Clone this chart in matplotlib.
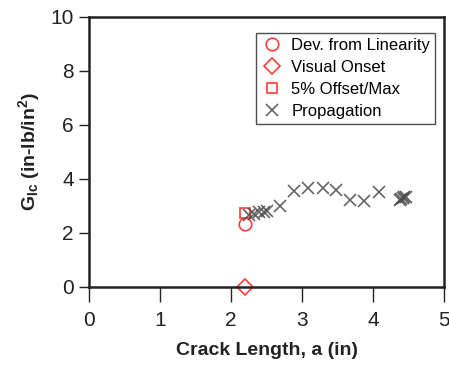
import numpy as np
import matplotlib.pyplot as plt

# valores
dev_x = [2.20]
dev_g = [2.32]
vis_x = [2.20]
vis_g = [0.0]
off_x = [2.20]
off_g = [2.75]
prop_x = [2.25, 2.32, 2.39, 2.46, 2.50, 2.69, 2.89, 3.08, 3.29, 3.48, 3.68, 3.87, 4.08,
          4.38, 4.40, 4.42, 4.44, 4.46]
prop_g = [2.65, 2.72, 2.76, 2.78, 2.80, 3.01, 3.57, 3.65, 3.65, 3.59, 3.22, 3.19, 3.53,
          3.24, 3.27, 3.30, 3.32, 3.35]

plt.rcParams['font.family'] = ['Liberation Sans', 'DejaVu Sans']
plt.rcParams['mathtext.fontset'] = 'custom'
plt.rcParams['mathtext.rm'] = 'Liberation Sans'
plt.rcParams['mathtext.bf'] = 'Liberation Sans:bold'

rojo = '#ff3b3b'
gris = '#4a4a4a'

fig = plt.figure(figsize=(4.49, 3.68), dpi=100)
ax = fig.add_axes([89 / 449, 81 / 368, 355 / 449, 270 / 368])

ax.plot(dev_x, dev_g, 'o', mfc='none', mec=rojo, ms=9, mew=1.2, label='Dev. from Linearity')
ax.plot(vis_x, vis_g, 'D', mfc='none', mec=rojo, ms=8.5, mew=1.2, label='Visual Onset', clip_on=False)
ax.plot(off_x, off_g, 's', mfc='none', mec=rojo, ms=7.5, mew=1.2, label='5% Offset/Max')
ax.plot(prop_x, prop_g, 'x', color=gris, ms=8, mew=1.2, alpha=0.85, label='Propagation')

ax.set_xlim(0, 5)
ax.set_ylim(0, 10)
ax.set_xticks(range(0, 6))
ax.set_yticks(range(0, 11, 2))

for s in ax.spines.values():
    s.set_linewidth(1.8)
    s.set_color('#222222')
ax.tick_params(direction='out', width=1, labelsize=15, colors='#222222')
ax.tick_params(axis='x', length=11, pad=6)
ax.tick_params(axis='y', length=7, pad=4)

ax.set_xlabel('Crack Length, a (in)', fontsize=14, fontweight='bold', color='#222222',
              labelpad=9)
ax.set_ylabel(r'$\mathbf{G_{Ic}}$ (in-lb/in$\mathbf{^2}$)', fontsize=14,
              fontweight='bold', color='#222222', labelpad=6)

leg = ax.legend(loc='upper right', fontsize=12, frameon=True, fancybox=False,
                edgecolor='#222222', handletextpad=0.5, borderpad=0.3,
                labelspacing=0.42, handlelength=1.3, borderaxespad=0,
                bbox_to_anchor=(0.975, 0.94))
leg.get_frame().set_linewidth(1.0)

fig.savefig('out.png', dpi=100)
